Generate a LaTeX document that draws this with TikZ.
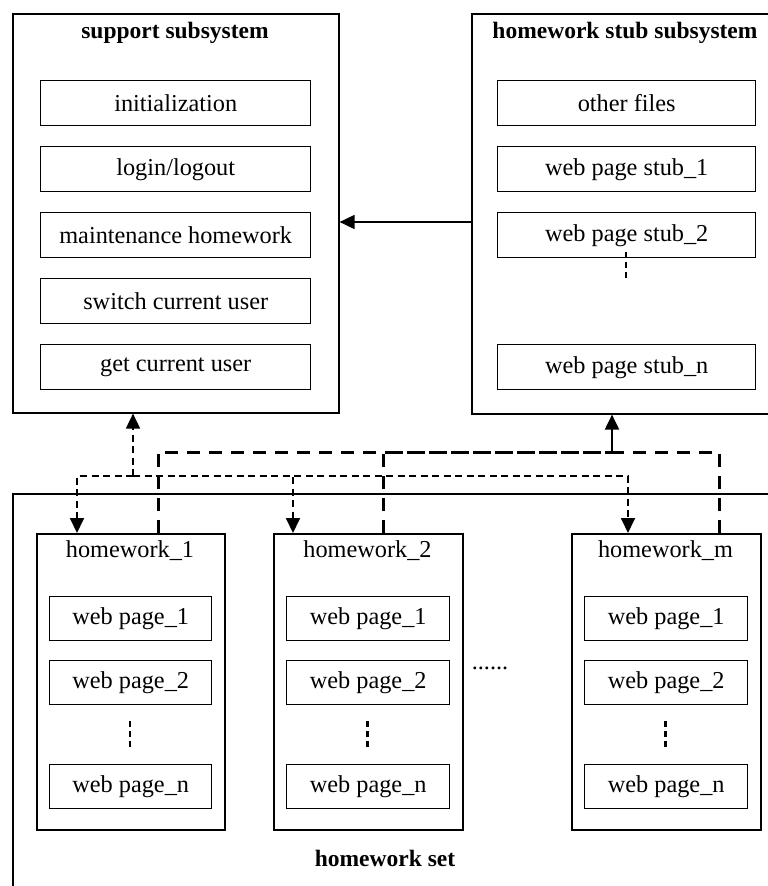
\documentclass[tikz,border=0pt]{standalone}
\usepackage{fontspec}
\setmainfont{Liberation Serif}
\usetikzlibrary{arrows.meta}
\begin{document}
\begin{tikzpicture}[x=1pt,y=-1pt,
  every node/.style={font=\fontsize{24.3}{28}\selectfont},
  frame/.style={draw, line width=1.6pt, inner sep=0pt, anchor=north west},
  item/.style={draw, line width=1.4pt, inner sep=0pt, anchor=north west, minimum height=45pt},
  hwitem/.style={item, minimum height=44pt},
  titletext/.style={font=\fontsize{23.5}{28}\selectfont\bfseries},
  sdash/.style={line width=1.8pt, dash pattern=on 7pt off 4.5pt},
  ldash/.style={line width=3pt, dash pattern=on 13pt off 9pt},
  tip/.style={-{Triangle[width=14pt,length=15pt]}},
  vdots/.style={line width=2.5pt, dash pattern=on 6pt off 4pt}
]
\useasboundingbox (0,0) rectangle (768,886);
\clip (0,0) rectangle (768,886);

% support subsystem
\node[frame, minimum width=326, minimum height=399] (sup) at (12,13) {};
\node[titletext] (supt) at (175,33) {support subsystem};
\node[item, minimum width=270] (s1) at (40,80) {initialization};
\node[item, minimum width=270] (s2) at (40,146) {login/logout};
\node[item, minimum width=270] (s3) at (40,212) {maintenance homework};
\node[item, minimum width=270] (s4) at (40,278) {switch current user};
\node[item, minimum width=270] (s5) at (40,344) {get current user};

% homework stub subsystem
\node[frame, minimum width=330, minimum height=400] (stub) at (471,13) {};
\node[titletext] (stubt) at (625,33) {homework stub subsystem};
\node[item, minimum width=258] (t1) at (497,80) {other files};
\node[item, minimum width=258] (t2) at (497,146) {web page stub\_1};
\node[item, minimum width=258] (t3) at (497,212) {web page stub\_2};
\node[item, minimum width=258] (tn) at (497,344) {web page stub\_n};
\draw[vdots] (626,252) -- (626,278);

% homework set
\node[frame, minimum width=800, minimum height=420] (set) at (12,493) {};
\node[titletext] (sett) at (385,858) {homework set};

\node[frame, minimum width=188, minimum height=296] (hw1) at (36,533) {};
\node (hw1t) at (130,551) {homework\_1};
\node[hwitem, minimum width=162] (a1) at (49,596) {web page\_1};
\node[hwitem, minimum width=162] (a2) at (49,660) {web page\_2};
\node[hwitem, minimum width=162] (an) at (49,764) {web page\_n};
\draw[vdots] (130,721) -- (130,747);

\node[frame, minimum width=189, minimum height=296] (hw2) at (273,533) {};
\node (hw2t) at (367.5,551) {homework\_2};
\node[hwitem, minimum width=163] (b1) at (286,596) {web page\_1};
\node[hwitem, minimum width=163] (b2) at (286,660) {web page\_2};
\node[hwitem, minimum width=163] (bn) at (286,764) {web page\_n};
\draw[vdots] (367.5,721) -- (367.5,747);

\node (ell) at (490,668) {......};

\node[frame, minimum width=189, minimum height=296] (hwm) at (571,533) {};
\node (hwmt) at (665.5,551) {homework\_m};
\node[hwitem, minimum width=163] (c1) at (584,596) {web page\_1};
\node[hwitem, minimum width=163] (c2) at (584,660) {web page\_2};
\node[hwitem, minimum width=163] (cn) at (584,764) {web page\_n};
\draw[vdots] (665.5,721) -- (665.5,747);

% connectors
\draw[line width=1.8pt, tip] (stub.west |- 0,222) -- (sup.east |- 0,222);

\coordinate (sbus) at (133,476);
\draw[sdash, tip] (sbus) -- (sbus |- sup.south);
\draw[sdash, tip] (sbus) -| (hw1.north -| 77,0);
\draw[sdash, tip] (sbus) -| (hw2.north -| 293,0);
\draw[sdash, tip] (sbus) -| (hwm.north -| 628,0);

\coordinate (lbus) at (612,452);
\draw[line width=2pt, tip] (lbus) -- (lbus |- stub.south);
\draw[ldash] (hw1.north -| 158,0) |- (lbus);
\draw[ldash] (hw2.north -| 383,0) |- (lbus);
\draw[ldash] (hwm.north -| 719,0) |- (lbus);
\end{tikzpicture}
\end{document}
